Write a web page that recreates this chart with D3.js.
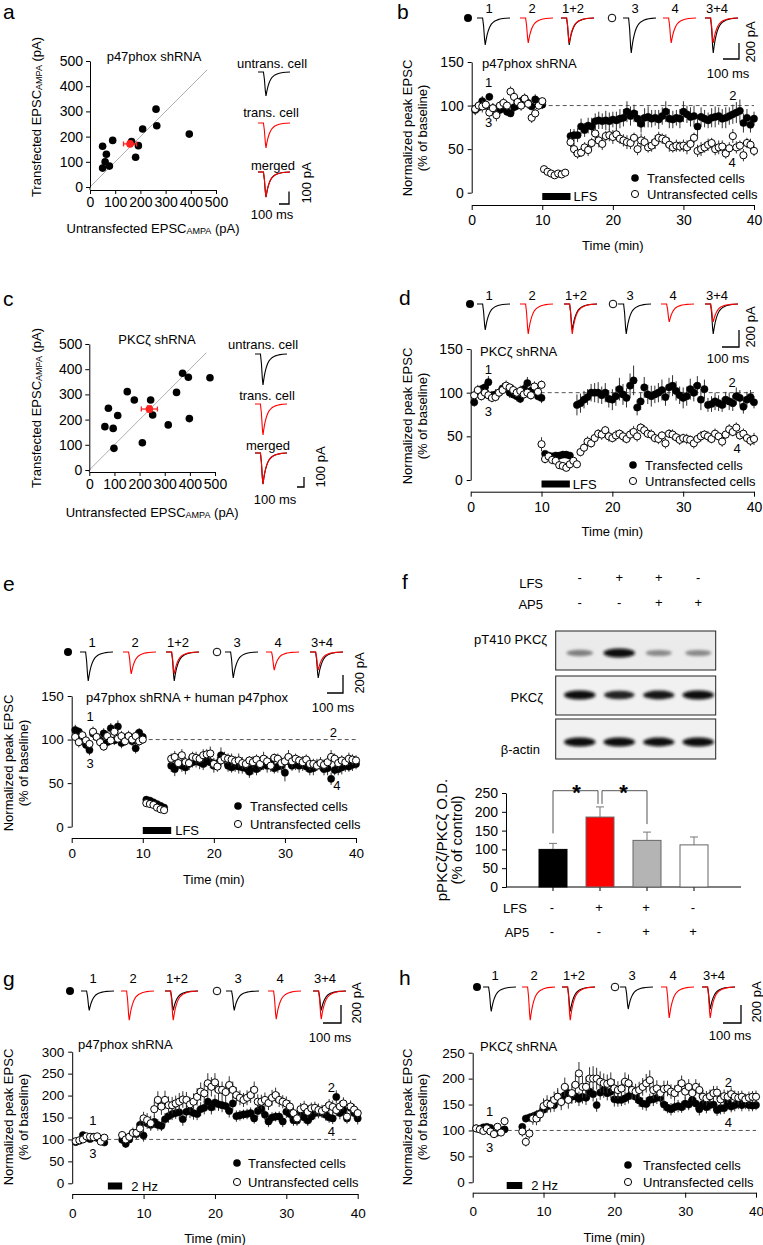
<!DOCTYPE html>
<html><head><meta charset="utf-8">
<script src="https://cdn.jsdelivr.net/npm/d3@7"></script>
<style>body{margin:0;background:#fff}svg{display:block}</style>
</head><body>
<svg id="fig" width="763" height="1245"></svg>
<script>
// ---------------- DATA ----------------
// a: scatter (pA)
const aUntrans=[50,90,50,65,60,77,262,265,209,192,181,394,165];
const aTrans  =[162,185,75,130,100,83,309,243,230,164,118,210,180];
const aMean=[159,171], aMeanErr=[26,10];
// c: scatter (pA)
const cUntrans=[76,62,95,113,151,179,98,244,252,211,314,347,371,394,398,480];
const cTrans  =[245,172,165,216,311,278,86,278,218,108,179,308,384,368,204,366];
const cMean=[239,242], cMeanErr=[32,12];
const scatterTicks=[0,100,200,300,400,500];
// example trace amplitudes (pA)
const aTraceAmps=[195,203,205,200];   // untrans, trans, merged black, merged red
const cTraceAmps=[310,310,312,308];
const bTraceAmps=[337,312,437,312];   // traces 1,2,3,4
const dTraceAmps=[300,346,346,208];
const eTraceAmps=[317,240,284,197];
const gTraceAmps=[211,320,211,309];
const hTraceAmps=[275,376,249,350];
// normalised EPSC waveform
const traceShapeX=[0,0.17,0.2,0.23,0.25,0.27,0.29,0.31,0.34,0.37,0.4,0.44,0.48,0.53,0.58,0.64,0.7,0.78,0.87,1];
const traceShapeY=[0,0,0.3,0.8,1,0.85,0.72,0.61,0.48,0.38,0.3,0.22,0.17,0.12,0.09,0.06,0.04,0.02,0.01,0];
const traceLabels=["1","2","1+2","3","4","3+4"];
const timeTicks=[0,10,20,30,40];
const SAMPLE=0.5; // min between points

// b (p47phox shRNA, LFS)
const bTransBase=[95,98,105,100,110,97,96,95,98,93,91,98,100,105,108,103,99,107,104,101];
const bTransBaseErr=[6,5,6,5,4,5,6,5,6,5,4,6,5,5,6,5,4,6,5,5];
const bUntransBase=[96,100,99,101,92,97,89,100,103,100,116,110,104,100,108,102,86,91,100,105];
const bUntransBaseErr=[6,5,7,6,6,6,7,5,6,5,6,6,5,6,5,6,6,5,5,4];
const bUntransLFS=[27,24,22,20,22,21,23];
const bUntransLFSErr=[3,3,3,2,3,2,3];
const bTransPost=[65,66,66,76,72,77,76,82,83,82,83,82,84,83,85,86,93,88,91,85,79,86,87,85,86,84,88,93,85,84,86,85,93,90,87,88,76,87,85,83,86,87,88,85,86,88,90,92,94,80,86,78,85];
const bTransPostErr=[8,7,8,9,8,9,10,9,10,9,11,10,9,10,11,10,12,11,10,9,10,11,12,10,9,11,10,12,11,10,9,11,12,10,11,12,13,11,10,9,11,12,10,11,12,10,11,12,13,11,10,9,8];
const bUntransPost=[58,50,45,46,52,49,57,68,60,56,65,66,64,67,62,60,58,57,63,50,60,58,52,54,58,63,62,60,55,52,54,53,54,52,56,63,48,50,52,55,57,50,52,53,45,51,65,52,54,43,57,55,48];
const bUntransPostErr=[6,7,6,5,6,7,6,7,8,7,6,7,8,7,6,7,8,7,6,7,8,7,6,7,8,7,6,7,8,6,7,6,7,8,7,6,7,8,6,7,6,7,8,7,6,7,8,7,6,7,6,7,6];

// d (PKCzeta shRNA, LFS)
const dTransBase=[89,101,104,106,112,97,98,100,105,107,100,98,96,93,104,111,102,105,96,94];
const dTransBaseErr=[5,6,5,6,7,5,6,5,6,5,6,5,6,5,6,7,5,6,5,6];
const dUntransBase=[97,103,96,100,97,94,95,100,103,108,106,103,100,102,98,100,97,107,101,109];
const dUntransBaseErr=[5,6,5,5,6,5,5,6,5,6,5,6,5,6,5,6,5,6,5,5];
const dTransLFS=[30,28,27,28,28,29,29,28];
const dTransLFSErr=[3,3,3,3,3,3,3,3];
const dTransPost=[86,88,92,95,100,100,100,97,100,93,92,96,104,98,94,108,114,83,90,106,98,96,98,100,103,95,106,108,102,97,94,96,104,100,108,92,104,86,87,90,88,86,92,90,88,96,94,84,92,95,89];
const dTransPostErr=[12,11,10,9,10,11,12,10,11,10,12,11,13,12,11,14,17,9,10,12,11,12,10,11,12,10,11,12,11,10,12,11,12,10,11,12,11,8,9,10,9,8,9,10,9,10,9,8,9,8,7];
const dUntransPost=[41,24,27,23,22,17,16,14,18,22,18,32,37,44,42,48,53,52,57,50,48,51,53,50,47,52,55,50,60,57,53,52,48,47,51,42,53,52,49,46,48,47,46,42,47,50,52,50,47,53,50,44,52,58,55,60,51,53,48,45,47];
const dUntransPostErr=[8,5,4,5,4,4,4,4,5,4,4,5,5,6,5,6,5,6,5,6,5,6,5,6,5,6,7,6,5,6,5,6,5,6,5,6,5,6,5,6,5,6,5,6,5,6,5,6,5,6,5,6,5,6,5,6,5,6,5,6,7];

// e (p47phox shRNA + human p47phox, LFS)
const eTransBase=[111,109,100,94,88,107,103,99,107,97,113,99,115,96,100,104,98,90,108,103];
const eTransBaseErr=[6,5,6,5,6,5,6,5,6,5,6,5,7,6,5,6,5,6,5,4];
const eUntransBase=[103,97,105,99,95,109,103,97,92,104,99,109,101,104,98,104,100,104,98,100];
const eUntransBaseErr=[5,6,5,6,5,6,5,6,5,6,5,6,5,6,5,6,5,6,5,5];
const eTransLFS=[31,30,28,26,24,22];
const eTransLFSErr=[2,2,2,2,2,2];
const eUntransLFS=[27,26,25,22,20,19];
const eUntransLFSErr=[2,2,2,2,2,2];
const eTransPost=[70,66,72,70,68,72,74,75,74,72,75,74,70,73,82,78,70,68,70,69,68,67,63,68,66,69,72,70,74,67,69,70,62,75,70,72,70,71,69,66,67,71,70,66,67,55,65,66,68,70,69,71,72];
const eTransPostErr=[7,8,6,7,8,7,6,7,8,7,6,7,8,7,9,8,7,6,7,8,7,6,7,8,7,6,7,8,7,6,7,8,10,7,6,7,8,7,6,7,8,7,6,7,8,7,6,7,8,7,6,7,6];
const eUntransPost=[78,80,73,82,74,73,80,79,78,82,83,84,72,69,76,79,78,77,75,76,73,72,76,74,77,72,78,75,70,79,78,73,75,80,75,78,76,74,77,72,72,70,73,71,74,80,78,73,76,74,78,77,76];
const eUntransPostErr=[6,7,5,7,6,8,6,7,5,7,6,8,7,6,7,5,6,7,6,8,7,6,5,7,6,7,8,6,7,5,6,7,6,8,7,6,5,7,6,7,6,5,7,6,7,8,6,7,6,5,7,6,6];

// g (p47phox shRNA, 2 Hz)
const gTransBase=[94,97,110,104,101,106,103,99,93];
const gTransBaseErr=[6,5,7,6,5,6,5,6,5];
const gUntransBase=[96,98,100,107,106,105,107,95,104];
const gUntransBaseErr=[5,6,5,6,5,6,5,6,5];
const gTransPost=[99,90,100,114,112,133,109,137,133,140,133,131,146,153,158,160,162,146,163,165,160,158,169,172,186,173,184,180,178,176,165,182,153,155,157,158,160,148,165,170,156,141,150,152,152,141,163,158,144,143,163,150,143,152,160,161,161,156,150,148,197,160,167,148,172,160,148];
const gTransPostErr=[8,9,8,10,11,12,14,13,12,14,13,12,14,15,14,13,16,15,14,16,15,14,16,15,17,16,18,15,16,14,15,16,13,12,11,12,13,12,14,13,12,13,12,11,12,13,14,12,13,12,14,13,12,13,14,13,12,13,12,13,15,14,13,12,13,12,14];
const gUntransPost=[110,100,106,115,115,125,148,144,137,169,190,175,190,178,178,182,186,191,190,180,186,197,209,205,228,220,230,213,213,208,224,213,201,195,190,195,201,213,186,186,190,183,195,201,190,186,182,175,160,148,169,173,163,171,172,167,165,170,178,174,167,175,182,152,175,168,160];
const gUntransPostErr=[9,10,11,12,13,14,15,16,17,18,20,19,21,20,19,18,20,19,18,17,19,20,21,22,23,22,21,20,19,18,20,19,18,17,16,17,18,19,17,16,17,16,18,17,16,15,16,15,14,13,14,15,14,13,14,15,14,13,14,15,14,13,14,13,14,13,12];

// h (PKCzeta shRNA, 2 Hz)
const hTransBase=[104,103,106,107,105,94,96,100,102];
const hTransBaseErr=[5,4,5,6,5,5,4,5,4];
const hUntransBase=[104,102,99,104,98,93,107,96,118];
const hUntransBaseErr=[5,4,5,4,5,4,5,6,8];
const hTransPost=[107,123,125,127,130,133,140,146,152,149,165,159,168,172,165,166,161,165,163,175,170,149,173,178,172,175,160,159,159,162,166,172,165,158,152,151,159,160,163,163,150,144,141,145,147,145,152,150,159,152,141,151,145,149,150,139,143,143,154,146,149,152,149,152,149,148,149];
const hTransPostErr=[6,7,8,8,9,10,11,12,12,13,14,13,14,15,14,13,14,13,14,15,14,13,14,15,14,13,14,13,12,13,14,13,12,13,12,13,12,13,12,13,12,11,12,11,12,11,12,11,12,11,12,11,12,11,12,11,12,11,12,11,12,11,12,11,12,11,10];
const hUntransPost=[98,78,94,123,123,131,147,152,150,159,165,155,184,159,172,188,210,184,184,200,200,200,194,191,190,193,181,178,181,194,191,178,175,178,184,191,197,178,181,172,180,181,175,172,181,191,175,184,172,184,178,165,162,166,172,173,160,166,165,170,165,163,165,160,163,165,165];
const hUntransPostErr=[10,9,10,12,13,14,15,16,15,16,17,16,18,17,19,20,22,21,20,22,24,21,20,19,18,19,18,17,16,18,17,16,15,16,17,18,19,17,16,15,16,15,14,15,16,15,14,15,14,15,14,13,14,13,14,13,12,13,12,13,12,13,12,11,12,11,12];

// f: western blot + bar chart
const fLFS=["-","+","+","-"];
const fAP5=["-","-","+","+"];
const fValues=[100,186,124,112];
const fErr=[16,27,22,21];
const fColors=["#000000","#ff0000","#b4b4b4","#ffffff"];
const fBandP=[0.45,0.95,0.4,0.4];
const fBandTotal=[0.95,0.85,0.92,0.95];
const fBandActin=[0.95,0.95,0.93,0.95];
const fTicks=[0,50,100,150,200,250];

// ---------------- DRAWING ----------------
const F='"Liberation Sans", Arial, Helvetica, sans-serif';
const svg=d3.select("#fig").attr("font-family",F);
const defs=svg.append("defs");
defs.append("filter").attr("id","blur").attr("x","-50%").attr("y","-100%").attr("width","200%").attr("height","300%")
  .append("feGaussianBlur").attr("stdDeviation",1.6);

function txt(g,x,y,s,o={}){
  const t=g.append("text").attr("x",x).attr("y",y).text(s)
    .attr("font-size",o.size||13).attr("text-anchor",o.anchor||"start")
    .attr("dominant-baseline","central").attr("fill",o.fill||"#000");
  if(o.rotate) t.attr("transform",`rotate(-90,${x},${y})`);
  if(o.weight) t.attr("font-weight",o.weight);
  return t;
}
function styleAxis(a,size){
  a.attr("font-family",F).attr("font-size",size);
  a.selectAll("path,line").attr("stroke","#000").attr("stroke-width",1);
  a.selectAll("text").attr("fill","#000");
}
function drawTrace(g,x0,w,y0,ampPx,color){
  const xs=d3.scaleLinear().domain([0,1]).range([x0,x0+w]);
  const ys=d3.scaleLinear().domain([0,1]).range([y0,y0+ampPx]);
  const line=d3.line().x((d,i)=>xs(traceShapeX[i])).y(d=>ys(d));
  g.append("path").attr("d",line(traceShapeY)).attr("fill","none").attr("stroke",color).attr("stroke-width",1.1);
}
function scaleBar(g,sb){
  g.append("path").attr("d",`M${sb.x-sb.len},${sb.y+sb.h}H${sb.x}V${sb.y}`).attr("fill","none").attr("stroke","#000").attr("stroke-width",1.3);
  txt(g,sb.paX,sb.paY,sb.paText,{anchor:"middle",rotate:true});
  txt(g,sb.msX,sb.msY,"100 ms",{anchor:"middle"});
}
function seg(t0,vals,errs){return vals.map((v,i)=>({t:t0+i*SAMPLE,v:v,e:errs[i]}));}

// ---------- scatter panels ----------
function scatter(o){
  const g=svg.append("g");
  const x=d3.scaleLinear().domain([0,500]).range(o.xr);
  const y=d3.scaleLinear().domain([0,500]).range(o.yr);
  g.append("line").attr("x1",x(0)).attr("y1",y(0)).attr("x2",x(465)).attr("y2",y(465)).attr("stroke","#b0b0b0").attr("stroke-width",1);
  const ya=g.append("g").attr("transform",`translate(${o.xr[0]},0)`).call(d3.axisLeft(y).tickValues(scatterTicks).tickSize(4).tickSizeOuter(0).tickPadding(3));
  const xa=g.append("g").attr("transform",`translate(0,${o.axisY})`).call(d3.axisBottom(x).tickValues(scatterTicks).tickSize(4).tickSizeOuter(0).tickPadding(3));
  styleAxis(ya,14);styleAxis(xa,14);
  g.append("line").attr("x1",o.xr[0]).attr("x2",o.xr[0]).attr("y1",y(0)).attr("y2",o.axisY).attr("stroke","#000");
  g.selectAll(null).data(o.xs).enter().append("circle").attr("cx",d=>x(d)).attr("cy",(d,i)=>y(o.ys[i])).attr("r",3.8).attr("fill","#000");
  const mx=x(o.mean[0]),my=y(o.mean[1]);
  const ex=o.meanErr[0],ey=o.meanErr[1];
  const red="#ff2020";
  g.append("line").attr("x1",x(o.mean[0]-ex)).attr("x2",x(o.mean[0]+ex)).attr("y1",my).attr("y2",my).attr("stroke",red).attr("stroke-width",1.3);
  [o.mean[0]-ex,o.mean[0]+ex].forEach(v=>g.append("line").attr("x1",x(v)).attr("x2",x(v)).attr("y1",my-2.5).attr("y2",my+2.5).attr("stroke",red).attr("stroke-width",1.3));
  g.append("line").attr("x1",mx).attr("x2",mx).attr("y1",y(o.mean[1]-ey)).attr("y2",y(o.mean[1]+ey)).attr("stroke",red).attr("stroke-width",1.3);
  [o.mean[1]-ey,o.mean[1]+ey].forEach(v=>g.append("line").attr("x1",mx-2.5).attr("x2",mx+2.5).attr("y1",y(v)).attr("y2",y(v)).attr("stroke",red).attr("stroke-width",1.3));
  g.append("circle").attr("cx",mx).attr("cy",my).attr("r",3.8).attr("fill",red);
  txt(g,o.titleX,o.titleY,o.title,{anchor:"middle"});
  // axis titles
  const xt=g.append("text").attr("x",(o.xr[0]+o.xr[1])/2).attr("y",o.xTitleY).attr("text-anchor","middle").attr("dominant-baseline","central").attr("font-size",13);
  xt.append("tspan").text("Untransfected EPSC");
  xt.append("tspan").text("AMPA").attr("font-size",9).attr("dy",3);
  xt.append("tspan").text(" (pA)").attr("dy",-3);
  const yt=g.append("text").attr("x",o.yTitleX).attr("y",o.yTitleY).attr("text-anchor","middle").attr("dominant-baseline","central").attr("font-size",13)
    .attr("transform",`rotate(-90,${o.yTitleX},${o.yTitleY})`);
  yt.append("tspan").text("Transfected EPSC");
  yt.append("tspan").text("AMPA").attr("font-size",9).attr("dy",3);
  yt.append("tspan").text(" (pA)").attr("dy",-3);
  // example traces
  const k=o.pxPer100/100;
  const tl=o.traces;
  txt(g,tl.labX[0],tl.labY[0],"untrans. cell",{anchor:"middle"});
  txt(g,tl.labX[1],tl.labY[1],"trans. cell",{anchor:"middle"});
  txt(g,tl.labX[2],tl.labY[2],"merged",{anchor:"middle"});
  drawTrace(g,tl.x,32,tl.base[0],o.amps[0]*k,"#000");
  drawTrace(g,tl.x,32,tl.base[1],o.amps[1]*k,"#ff0000");
  drawTrace(g,tl.x,32,tl.base[2],o.amps[2]*k,"#000");
  drawTrace(g,tl.x,32,tl.base[2],o.amps[3]*k,"#ff0000");
  scaleBar(g,o.sb);
  txt(g,o.letter[0],o.letter[1],o.letter[2],{size:21});
}

scatter({xr:[90,216],yr:[187,61],axisY:190,xs:aUntrans,ys:aTrans,mean:aMean,meanErr:aMeanErr,
  title:"p47phox shRNA",titleX:154,titleY:56,xTitleY:228,yTitleX:36,yTitleY:117,
  amps:aTraceAmps,pxPer100:12.3,
  traces:{x:258,base:[72,123,172],labX:[272,271,273],labY:[63,112,165]},
  sb:{x:289,y:191.5,len:10,h:12.5,paText:"100 pA",paX:306,paY:183,msX:272,msY:214},
  letter:[3,11,"a"]});
scatter({xr:[89.3,215],yr:[470,344],axisY:472,xs:cUntrans,ys:cTrans,mean:cMean,meanErr:cMeanErr,
  title:"PKCζ shRNA",titleX:157,titleY:339,xTitleY:512,yTitleX:36,yTitleY:408,
  amps:cTraceAmps,pxPer100:10,
  traces:{x:255,base:[354,404,453],labX:[263,267,268],labY:[344,395,445]},
  sb:{x:304,y:477,len:7,h:10,paText:"100 pA",paX:320,paY:467,msX:275,msY:499},
  letter:[3,298,"c"]});

// ---------- time-course panels ----------
function timeCourse(o){
  const g=svg.append("g");
  const x=d3.scaleLinear().domain([0,40]).range(o.xr);
  const y=d3.scaleLinear().domain([0,o.ymax]).range(o.yr);
  g.append("line").attr("x1",x(0)).attr("x2",x(40)).attr("y1",y(100)).attr("y2",y(100))
    .attr("stroke","#555").attr("stroke-dasharray","4,3").attr("stroke-width",1);
  const ya=g.append("g").attr("transform",`translate(${o.xr[0]},0)`).call(d3.axisLeft(y).tickValues(o.yticks).tickSize(4).tickSizeOuter(0).tickPadding(4));
  const xa=g.append("g").attr("transform",`translate(0,${o.axisY})`).call(d3.axisBottom(x).tickValues(timeTicks).tickSize(5).tickSizeOuter(0).tickPadding(o.xPad));
  styleAxis(ya,o.tick);styleAxis(xa,o.tick);
  txt(g,(o.xr[0]+o.xr[1])/2,o.timeY,"Time (min)",{anchor:"middle"});
  txt(g,o.yTitleX,o.yTitleY,"Normalized peak EPSC",{anchor:"middle",rotate:true});
  txt(g,o.yTitleX+15,o.yTitleY,"(% of baseline)",{anchor:"middle",rotate:true});
  // stimulation bar
  g.append("rect").attr("x",x(o.stim[0])).attr("width",x(o.stim[1])-x(o.stim[0])).attr("y",o.stimY-3.5).attr("height",7).attr("fill","#000");
  txt(g,x(o.stim[1])+o.stimGap,o.stimY,o.stimLabel);
  // data
  const drawSeries=(segs,filled)=>{
    const pts=[].concat(...segs);
    g.selectAll(null).data(pts).enter().append("line")
      .attr("x1",d=>x(d.t)).attr("x2",d=>x(d.t)).attr("y1",d=>y(d.v-d.e)).attr("y2",d=>y(d.v+d.e))
      .attr("stroke","#333").attr("stroke-width",1);
    g.selectAll(null).data(pts).enter().append("circle")
      .attr("cx",d=>x(d.t)).attr("cy",d=>y(d.v)).attr("r",3.6)
      .attr("fill",filled?"#000":"#fff").attr("stroke","#000").attr("stroke-width",filled?0.5:1);
  };
  drawSeries(o.trans,true);
  drawSeries(o.untrans,false);
  // numbers
  o.nums.forEach(n=>txt(g,x(n[1]),y(n[2]),n[0],{anchor:"middle"}));
  txt(g,o.titlePos[0],o.titlePos[1],o.title);
  // legend
  const L=o.legend;
  g.append("circle").attr("cx",L.x).attr("cy",L.y1).attr("r",3.8).attr("fill","#000");
  g.append("circle").attr("cx",L.x).attr("cy",L.y2).attr("r",3.6).attr("fill","#fff").attr("stroke","#000");
  txt(g,L.tx,L.y1,"Transfected cells");
  txt(g,L.tx,L.y2,"Untransfected cells");
  // example traces
  const T=o.tr, k=T.px200/200;
  traceLabels.forEach((l,i)=>txt(g,T.lx[i],T.labY,l,{anchor:"middle"}));
  const combos=[[0],[1],[0,1],[2],[3],[2,3]];
  combos.forEach((c,i)=>c.forEach(j=>drawTrace(g,T.lx[i]-12,33,T.base,o.amps[j]*k,(j%2)?"#ff0000":"#000")));
  g.append("circle").attr("cx",T.fx).attr("cy",T.base).attr("r",4).attr("fill","#000");
  g.append("circle").attr("cx",T.ox).attr("cy",T.base).attr("r",3.8).attr("fill","#fff").attr("stroke","#000");
  scaleBar(g,T.sb);
  txt(g,o.letter[0],o.letter[1],o.letter[2],{size:21});
}

timeCourse({xr:[471.7,754],yr:[192.7,62],ymax:150,yticks:[0,50,100,150],axisY:205,xPad:5,tick:14,timeY:245,
  yTitleX:407,yTitleY:128,stim:[10,14],stimY:196.5,stimGap:3,stimLabel:"LFS",
  trans:[seg(0.5,bTransBase,bTransBaseErr),seg(14,bTransPost,bTransPostErr)],
  untrans:[seg(0.5,bUntransBase,bUntransBaseErr),seg(10.25,bUntransLFS,bUntransLFSErr),seg(14,bUntransPost,bUntransPostErr)],
  nums:[["1",2.4,127],["3",2.4,80],["2",37,111],["4",36.9,35]],
  title:"p47phox shRNA",titlePos:[482,63],
  legend:{x:635,tx:647,y1:178,y2:194},amps:bTraceAmps,
  tr:{lx:[489,532,573,635,675,717],labY:8,base:18,px200:16,fx:468,ox:612,
      sb:{x:739,y:43,len:16,h:16,paText:"200 pA",paX:750,paY:42,msX:728,msY:73}},
  letter:[397,11,"b"]});

timeCourse({xr:[470.7,754],yr:[480,349],ymax:150,yticks:[0,50,100,150],axisY:491.7,xPad:5,tick:14,timeY:531,
  yTitleX:407,yTitleY:416,stim:[10,14],stimY:484,stimGap:3,stimLabel:"LFS",
  trans:[seg(0.5,dTransBase,dTransBaseErr),seg(10.5,dTransLFS,dTransLFSErr),seg(15,dTransPost,dTransPostErr)],
  untrans:[seg(0.5,dUntransBase,dUntransBaseErr),seg(10,dUntransPost,dUntransPostErr)],
  nums:[["1",2.5,126],["3",2.5,78],["2",36.9,112],["4",37.6,36]],
  title:"PKCζ shRNA",titlePos:[480,351],
  legend:{x:633,tx:645,y1:465,y2:481},amps:dTraceAmps,
  tr:{lx:[489,532,576,630,673,717],labY:295,base:304,px200:17.3,fx:470,ox:613,
      sb:{x:739,y:330,len:17,h:17,paText:"200 pA",paX:750,paY:327,msX:728,msY:358}},
  letter:[399,297,"d"]});

timeCourse({xr:[71.7,356],yr:[826.7,696],ymax:150,yticks:[0,50,100,150],axisY:838,xPad:5,tick:13.5,timeY:879,
  yTitleX:8,yTitleY:763,stim:[10,14],stimY:830.5,stimGap:4,stimLabel:"LFS",
  trans:[seg(0.5,eTransBase,eTransBaseErr),seg(10.5,eTransLFS,eTransLFSErr),seg(14,eTransPost,eTransPostErr)],
  untrans:[seg(0.5,eUntransBase,eUntransBaseErr),seg(10.5,eUntransLFS,eUntransLFSErr),seg(14,eUntransPost,eUntransPostErr)],
  nums:[["1",2.6,126],["3",2.6,73],["2",36.8,108],["4",37.3,47]],
  title:"p47phox shRNA + human p47phox",titlePos:[86,697],
  legend:{x:238,tx:250,y1:806,y2:824},amps:eTraceAmps,
  tr:{lx:[92,135,178,237,278,322],labY:642,base:652,px200:18.3,fx:68,ox:217,
      sb:{x:343,y:675,len:16,h:18,paText:"200 pA",paX:359,paY:673,msX:333,msY:707}},
  letter:[3,583,"e"]});

timeCourse({xr:[72.2,357.7],yr:[1183.3,1051.7],ymax:300,yticks:[0,50,100,150,200,250,300],axisY:1194,xPad:9,tick:13.5,timeY:1238,
  yTitleX:8,yTitleY:1117,stim:[5,7],stimY:1186,stimGap:9,stimLabel:"2 Hz",
  trans:[seg(0.5,gTransBase,gTransBaseErr),seg(7,gTransPost,gTransPostErr)],
  untrans:[seg(0.5,gUntransBase,gUntransBaseErr),seg(7,gUntransPost,gUntransPostErr)],
  nums:[["1",2.9,144],["3",2.9,67],["2",36.3,219],["4",36.3,117]],
  title:"p47phox shRNA",titlePos:[78,1044],
  legend:{x:237,tx:248,y1:1163,y2:1182},amps:gTraceAmps,
  tr:{lx:[93,133,177,238,280,325],labY:978,base:991,px200:18.3,fx:70,ox:217,
      sb:{x:341,y:1005,len:18,h:18,paText:"200 pA",paX:356,paY:1003,msX:330,msY:1037}},
  letter:[3,978,"g"]});

timeCourse({xr:[472.7,756],yr:[1182.3,1052.7],ymax:250,yticks:[0,50,100,150,200,250],axisY:1192.7,xPad:9,tick:13.5,timeY:1237,
  yTitleX:407,yTitleY:1117,stim:[4.8,7],stimY:1185.5,stimGap:9,stimLabel:"2 Hz",
  trans:[seg(0.5,hTransBase,hTransBaseErr),seg(7,hTransPost,hTransPostErr)],
  untrans:[seg(0.5,hUntransBase,hUntransBaseErr),seg(7,hUntransPost,hUntransPostErr)],
  nums:[["1",2.4,136],["3",2.4,68],["2",36.1,193],["4",36.1,116]],
  title:"PKCζ shRNA",titlePos:[480,1046],
  legend:{x:628,tx:643,y1:1165,y2:1182},amps:hTraceAmps,
  tr:{lx:[495,534,574,632,673,714],labY:975,base:987,px200:17.7,fx:477,ox:615,
      sb:{x:741,y:1005,len:18,h:18,paText:"200 pA",paX:756,paY:1002,msX:730,msY:1035}},
  letter:[399,977,"h"]});

// ---------- panel f ----------
(function(){
  const g=svg.append("g");
  txt(g,402,581,"f",{size:21});
  const lanes=d3.scaleBand().domain(d3.range(4)).range([561,719]).padding(0);
  const lx=i=>lanes(i)+lanes.bandwidth()/2-1;
  txt(g,543,583,"LFS",{anchor:"end"});
  txt(g,543,604,"AP5",{anchor:"end"});
  fLFS.forEach((s,i)=>txt(g,lx(i),577,s,{anchor:"middle"}));
  fAP5.forEach((s,i)=>txt(g,lx(i),602,s,{anchor:"middle"}));
  const boxes=[{y:631,h:39,bg:"#ebebeb",band:fBandP,cy:653,label:"pT410 PKCζ",lx:547,ly:639},
               {y:676,h:39,bg:"#f1f1f1",band:fBandTotal,cy:695,label:"PKCζ",lx:543,ly:697},
               {y:719,h:40,bg:"#f1f1f1",band:fBandActin,cy:742,label:"β-actin",lx:540,ly:749}];
  boxes.forEach(b=>{
    g.append("rect").attr("x",555.7).attr("y",b.y).attr("width",160).attr("height",b.h).attr("fill",b.bg).attr("stroke","#222").attr("stroke-width",1);
    g.selectAll(null).data(b.band).enter().append("ellipse")
      .attr("cx",(d,i)=>lx(i)).attr("cy",b.cy).attr("rx",d=>11+5*d).attr("ry",d=>2+2.6*d)
      .attr("fill",d=>d3.interpolateGreys(0.25+0.75*d)).attr("filter","url(#blur)");
    txt(g,b.lx,b.ly,b.label,{anchor:"end"});
  });
  // bar chart
  const x=d3.scaleBand().domain(d3.range(4)).range([529.5,717.5]).paddingInner(0.5).paddingOuter(0.25);
  const y=d3.scaleLinear().domain([0,250]).range([887,793]);
  const ya=g.append("g").attr("transform","translate(506,0)").call(d3.axisLeft(y).tickValues(fTicks).tickSize(4).tickSizeOuter(0).tickPadding(4));
  styleAxis(ya,14);
  g.append("line").attr("x1",506).attr("x2",741).attr("y1",887).attr("y2",887).attr("stroke","#000");
  const bw=28;
  const cx=i=>x(i)+x.bandwidth()/2;
  fValues.forEach((v,i)=>{
    g.append("line").attr("x1",cx(i)).attr("x2",cx(i)).attr("y1",887).attr("y2",891).attr("stroke","#000");
    g.append("line").attr("x1",cx(i)).attr("x2",cx(i)).attr("y1",y(v)).attr("y2",y(v+fErr[i])).attr("stroke","#777");
    g.append("line").attr("x1",cx(i)-4).attr("x2",cx(i)+4).attr("y1",y(v+fErr[i])).attr("y2",y(v+fErr[i])).attr("stroke","#777");
    g.append("rect").attr("x",cx(i)-bw/2).attr("width",bw).attr("y",y(v)).attr("height",887-y(v))
      .attr("fill",fColors[i]).attr("stroke",i===0?"#000":"#666").attr("stroke-width",1);
  });
  // significance brackets
  const top=790.7;
  const br=(a,b,ya2,yb2)=>g.append("path").attr("d",`M${a},${ya2}V${top}H${b}V${yb2}`).attr("fill","none").attr("stroke","#555").attr("stroke-width",1);
  br(cx(0),cx(1)-2,y(fValues[0]+fErr[0])-10,y(fValues[1]+fErr[1])-3);
  br(cx(1)+2,cx(2),y(fValues[1]+fErr[1])-3,y(fValues[2]+fErr[2])-8);
  txt(g,(cx(0)+cx(1))/2,792,"*",{anchor:"middle",size:22,weight:"bold"});
  txt(g,(cx(1)+cx(2))/2,792,"*",{anchor:"middle",size:22,weight:"bold"});
  txt(g,441,840,"pPKCζ/PKCζ O.D.",{anchor:"middle",rotate:true,size:15});
  txt(g,456,840,"(% of control)",{anchor:"middle",rotate:true,size:15});
  txt(g,515,908,"LFS",{anchor:"middle"});
  txt(g,517,932,"AP5",{anchor:"middle"});
  fLFS.forEach((s,i)=>txt(g,cx(i)-1,907,s,{anchor:"middle"}));
  fAP5.forEach((s,i)=>txt(g,cx(i)-1,931,s,{anchor:"middle"}));
})();
</script>
</body></html>
